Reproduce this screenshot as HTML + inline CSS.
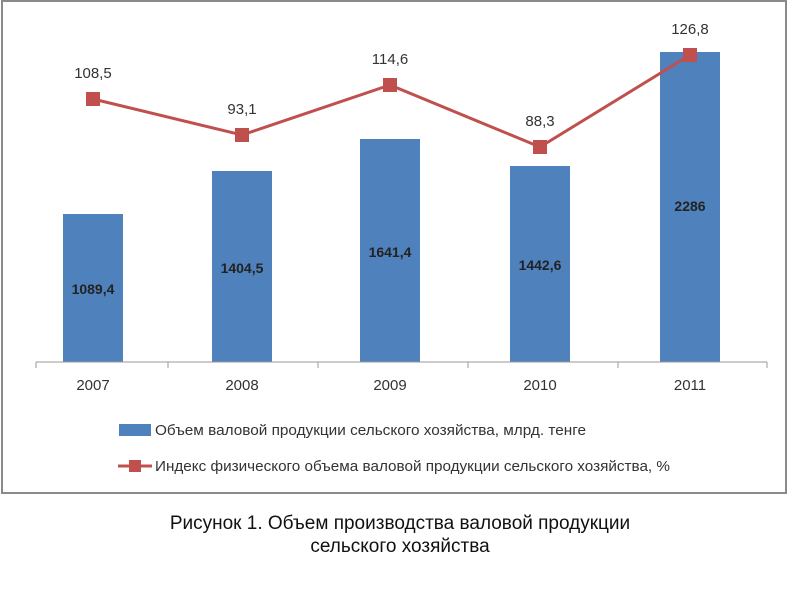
<!DOCTYPE html>
<html><head><meta charset="utf-8"><style>
body{margin:0;background:#fff;width:800px;height:600px;overflow:hidden}
</style></head><body>
<svg width="800" height="600" xmlns="http://www.w3.org/2000/svg" font-family="'Liberation Sans',sans-serif">
<rect x="2" y="1" width="784" height="492" fill="#fff" stroke="#8a8a8a" stroke-width="2"/>
<g fill="#4f81bd">
<rect x="63" y="214" width="60" height="148"/>
<rect x="212" y="171" width="60" height="191"/>
<rect x="360" y="139" width="60" height="223"/>
<rect x="510" y="166" width="60" height="196"/>
<rect x="660" y="52" width="60" height="310"/>
</g>
<g stroke="#999" stroke-width="1">
<line x1="36" y1="362" x2="767" y2="362"/>
<line x1="36" y1="362" x2="36" y2="368"/><line x1="168" y1="362" x2="168" y2="368"/><line x1="318" y1="362" x2="318" y2="368"/><line x1="468" y1="362" x2="468" y2="368"/><line x1="618" y1="362" x2="618" y2="368"/><line x1="767" y1="362" x2="767" y2="368"/>
</g>
<g font-size="14" font-weight="bold" fill="#222" text-anchor="middle">
<text x="93" y="294">1089,4</text><text x="242" y="273">1404,5</text><text x="390" y="257">1641,4</text><text x="540" y="270">1442,6</text><text x="690" y="211">2286</text>
</g>
<polyline points="93,99 242,135 390,85 540,147 690,55" fill="none" stroke="#c0504d" stroke-width="3"/>
<g fill="#c0504d">
<rect x="86" y="92" width="14" height="14"/><rect x="235" y="128" width="14" height="14"/><rect x="383" y="78" width="14" height="14"/><rect x="533" y="140" width="14" height="14"/><rect x="683" y="48" width="14" height="14"/>
</g>
<g font-size="15" fill="#333" text-anchor="middle">
<text x="93" y="78">108,5</text><text x="242" y="114">93,1</text><text x="390" y="64">114,6</text><text x="540" y="126">88,3</text><text x="690" y="34">126,8</text>
<text x="93" y="390">2007</text><text x="242" y="390">2008</text><text x="390" y="390">2009</text><text x="540" y="390">2010</text><text x="690" y="390">2011</text>
</g>
<rect x="119" y="424" width="32" height="12" fill="#4f81bd"/>
<text x="155" y="435" font-size="15" fill="#333" textLength="431" lengthAdjust="spacingAndGlyphs">Объем валовой продукции сельского хозяйства, млрд. тенге</text>
<line x1="118" y1="466" x2="152" y2="466" stroke="#c0504d" stroke-width="3"/>
<rect x="129" y="460" width="12" height="12" fill="#c0504d"/>
<text x="155" y="471" font-size="15" fill="#333" textLength="515" lengthAdjust="spacingAndGlyphs">Индекс физического объема валовой продукции сельского хозяйства, %</text>
<g font-size="19" fill="#111" text-anchor="middle">
<text x="400" y="529">Рисунок 1. Объем производства валовой продукции</text>
<text x="400" y="552">сельского хозяйства</text>
</g>
</svg>
</body></html>
